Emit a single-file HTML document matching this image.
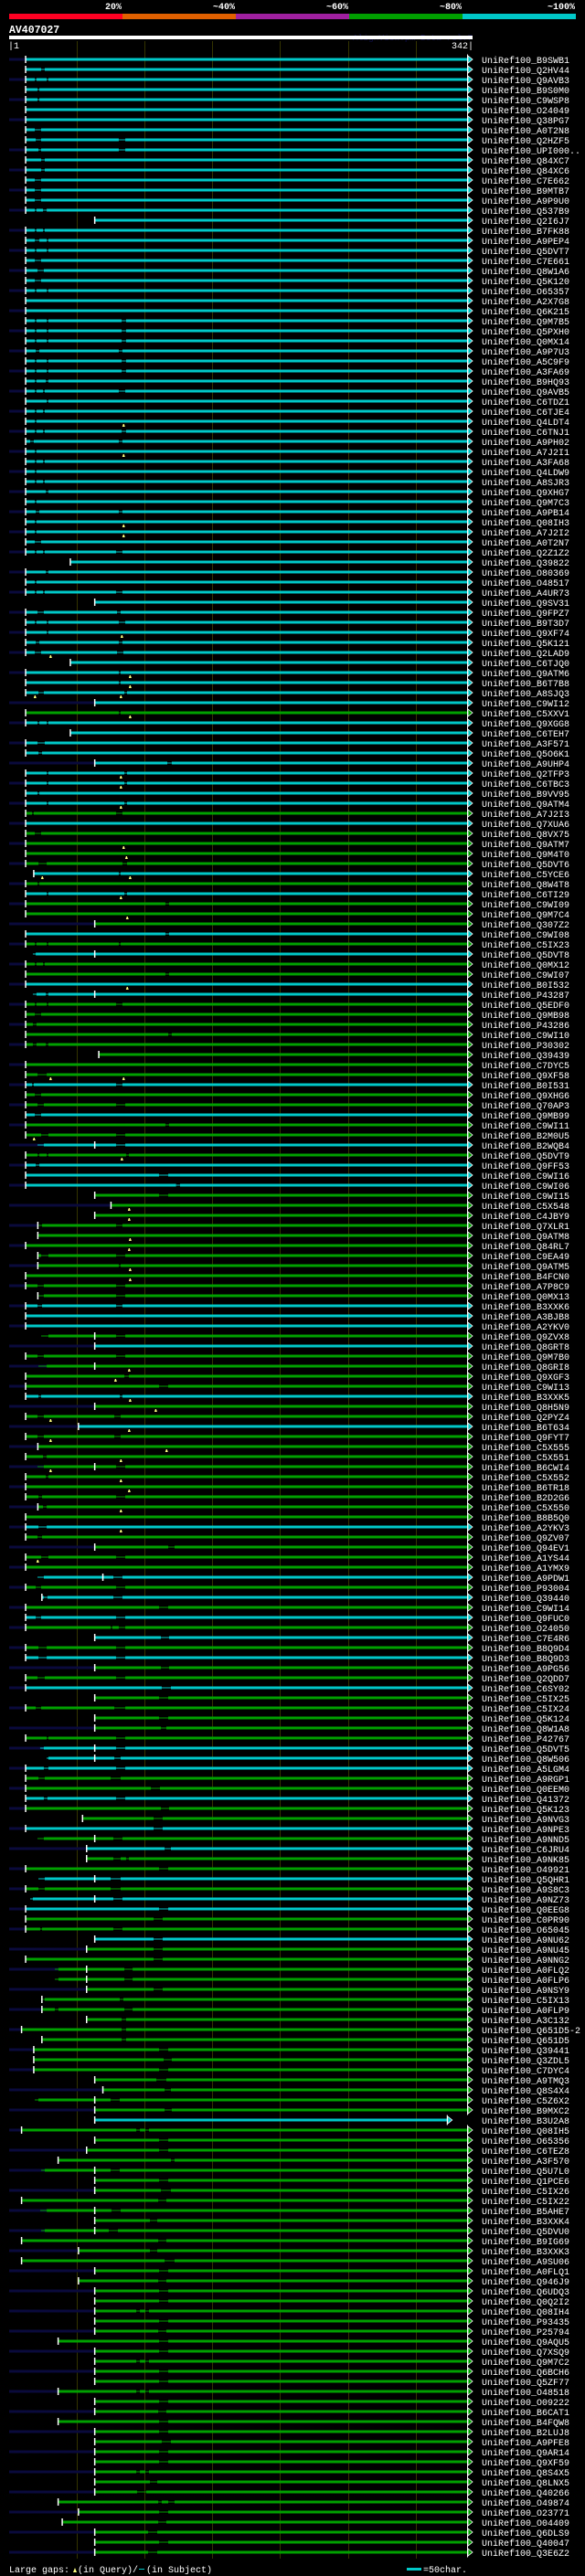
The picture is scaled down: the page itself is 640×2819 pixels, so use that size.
<!DOCTYPE html>
<html><head><meta charset="utf-8"><title>AV407027 alignment</title>
<style>
html,body{margin:0;padding:0;background:#000;}
svg{display:block;}
text{font-family:"Liberation Mono",monospace;}
</style></head>
<body>
<svg id="chart" xmlns="http://www.w3.org/2000/svg" width="640" height="2819" viewBox="0 0 640 2819">
<rect x="0" y="0" width="640" height="2819" fill="#000"/>
<g id="legend-top"></g>
<text x="10" y="36" fill="#fff" font-size="11.5" font-weight="bold">AV407027</text>
<text x="517" y="44" fill="#0c0c48" font-size="9.5" text-anchor="end">AlignView.pm Beta rel.7</text>
<rect x="10" y="39" width="507" height="4" fill="#fff"/>
<text x="9" y="53" fill="#fff" font-size="10">|1</text>
<text x="518" y="53" fill="#fff" font-size="10" text-anchor="end">342|</text>
<g id="grid"></g>
<g id="rows"></g>
<g>
<text x="10" y="2815" fill="#fff" font-size="10">Large gaps:</text>
<polygon points="80,2815 82,2810 84,2815" fill="#ffff80"/>
<text x="85" y="2815" fill="#fff" font-size="10">(in Query)/</text>
<rect x="152" y="2811" width="6" height="1" fill="#00c8c8"/>
<text x="160" y="2815" fill="#fff" font-size="10">(in Subject)</text>
<rect x="445" y="2810" width="16" height="3" fill="#00c8c8"/>
<text x="463" y="2815" fill="#fff" font-size="10">=50char.</text>
</g>
</svg>
<script>
// ---- data ----
const legendLabels = ["20%","~40%","~60%","~80%","~100%"];
const legendColors = ["#ff0022","#e06000","#a020a0","#00a000","#00c8c8"];
const gridTicks = [50,100,150,200,250,300];
const queryLength = 342;
const rowNames = ["B9SWB1","Q2HV44","Q9AVB3","B9S0M0","C9WSP8","O24049","Q38PG7","A0T2N8","Q2HZF5","UPI000..","Q84XC7","Q84XC6","C7E662","B9MTB7","A9P9U0","Q537B9","Q2I6J7","B7FK88","A9PEP4","Q5DVT7","C7E661","Q8W1A6","Q5K120","O65357","A2X7G8","Q6K215","Q9M7B5","Q5PXH0","Q0MX14","A9P7U3","A5C9F9","A3FA69","B9HQ93","Q9AVB5","C6TDZ1","C6TJE4","Q4LDT4","C6TNJ1","A9PH02","A7J2I1","A3FA68","Q4LDW9","A8SJR3","Q9XHG7","Q9M7C3","A9PB14","Q08IH3","A7J2I2","A0T2N7","Q2Z1Z2","Q39822","O80369","O48517","A4UR73","Q9SV31","Q9FPZ7","B9T3D7","Q9XF74","Q5K121","Q2LAD9","C6TJQ0","Q9ATM6","B6T7B8",
"A8SJQ3","C9WI12","C5XXV1","Q9XGG8","C6TEH7","A3F571","Q5O6K1","A9UHP4","Q2TFP3","C6TBC3","B9VV95","Q9ATM4","A7J2I3","Q7XUA6","Q8VX75","Q9ATM7","Q9M4T0","Q5DVT6","C5YCE6","Q8W4T8","C6TI29","C9WI09","Q9M7C4","Q307Z2","C9WI08","C5IX23","Q5DVT8","Q0MX12","C9WI07","B0I532","P43287","Q5EDF0","Q9MB98","P43286","C9WI10","P30302","Q39439","C7DYC5","Q9XF58","B0I531","Q9XHG6","Q70AP3","Q9MB99","C9WI11","B2M0U5","B2WQB4","Q5DVT9","Q9FF53","C9WI16","C9WI06","C9WI15","C5X548","C4JBY9","Q7XLR1","Q9ATM8","Q84RL7","C9EA49","Q9ATM5","B4FCN0","A7P8C9","Q0MX13","B3XXK6","A3BJB8","A2YKV0",
"Q9ZVX8","Q8GRT8","Q9M7B0","Q8GRI8","Q9XGF3","C9WI13","B3XXK5","Q8H5N9","Q2PYZ4","B6T634","Q9FYT7","C5X555","C5X551","B6CWI4","C5X552","B6TR18","B2D2G6","C5X550","B8B5Q0","A2YKV3","Q9ZV07","Q94EV1","A1YS44","A1YMX9","A9PDW1","P93004","Q39440","C9WI14","Q9FUC0","O24050","C7E4R6","B8Q9D4","B8Q9D3","A9PG56","Q2QDD7","C6SY02","C5IX25","C5IX24","Q5K124","Q8W1A8","P42767","Q5DVT5","Q8W506","A5LGM4","A9RGP1","Q0EEM0","Q41372","Q5K123","A9NVG3","A9NPE3","A9NND5","C6JRU4","A9NK85","O49921","Q5QHR1","A9S8C3","A9NZ73","Q0EEG8","C0PR90","O65045","A9NU62","A9NU45","A9NNG2","A0FLQ2",
"A0FLP6","A9NSY9","C5IX13","A0FLP9","A3C132","Q651D5-2","Q651D5","Q39441","Q3ZDL5","C7DYC4","A9TMQ3","Q8S4X4","C5Z6X2","B9MXC2","B3U2A8","Q08IH5","O65356","C6TEZ8","A3F570","Q5U7L0","Q1PCE6","C5IX26","C5IX22","B5AHE7","B3XXK4","Q5DVU0","B9IG69","B3XXK3","A9SU06","A0FLQ1","Q946J9","Q6UDQ3","Q0Q2I2","Q08IH4","P93435","P25794","Q9AQU5","Q7XSQ9","Q9M7C2","Q6BCH6","Q5ZF77","O48518","O09222","B6CAT1","B4FQW8","B2LUJ8","A9PFE8","Q9AR14","Q9XF59","Q8S4X5","Q8LNX5","Q40266","O49874","O23771","O04409","Q6DLS9","Q40047","Q3E6Z2"];
// c = cyan (~100%), g = green (~80%)
const rowColor = "ccccccccccccccccccccccccccccccccccccccccccccccccccccccccccccccc"+
"ccgcccccccccgcggggcgcgggcgcggccggggggggcggcggcgcccgggggggggggccc"+
"gcggggcggcgggggggggcggggcgcgcgcgcggcgggggcccggcggcgcggcgccggcggg"+
"ggggggggggggggcgggggggggggggggggggggggggggggggggggggggggggg";
const rowStart = [12,12,12,12,12,12,12,12,12,12,12,12,12,12,12,12,63,12,12,12,12,12,12,12,12,12,12,12,12,12,12,12,12,12,12,12,12,12,12,12,12,12,12,12,12,12,12,12,12,12,45,12,12,12,63,12,12,12,12,12,45,12,12,
12,63,12,12,45,12,12,63,12,12,12,12,12,12,12,12,12,12,18,12,12,12,12,63,12,12,63,12,12,12,63,12,12,12,12,12,66,12,12,12,12,12,12,12,12,63,12,12,12,12,63,75,63,21,21,12,21,21,12,12,21,12,12,12,63,63,
12,63,12,12,12,63,12,51,12,21,12,63,12,12,12,21,12,12,12,63,12,12,69,12,24,12,12,12,63,12,12,63,12,12,63,12,63,63,12,63,63,12,12,12,12,12,54,12,63,57,57,12,63,12,63,12,12,12,63,57,12,57,57,57,24,
24,57,9,24,18,18,18,63,69,63,63,63,9,63,57,36,63,63,63,9,63,63,63,9,51,9,63,51,63,63,63,63,63,36,63,63,63,63,36,63,63,36,63,63,63,63,63,63,63,36,51,39,63,63,63,51,63,51];
const rowExt = "101010100101010101010101010101010101010101010101010101010101010"+
"0101010101010101010101010101010101010101010101010101010101010101"+
"0101010101010101010101010101010101010101010101010101010101010101"+
"0101010101010101010101010101010101010101010101010101010101";
const rowGaps = ["","23.6-26.3","18.9-20.2 27.7-29","20.9-22.3","20.9-22.3","","","18.9-23.6","19.6-23.6 80.9-85.7","21.6-23.6 80.9-85.7","23.6-26.3","23.6-26.3","18.9-23.6","18.9-23.6","18.9-23.6","18.9-20.2 25-27.7","","18.9-20.2 25-26.3","18.9-22.3 27.7-29","18.9-20.2 27.7-29","18.9-23.6","20.9-25.6","18.9-23.6","18.9-20.2 27.7-29","","","18.9-20.2 27.7-29 83-86.3","18.9-20.2 27.7-29 83-86.3","18.9-20.2 27.7-29 83-86.3","19.6-22.3 80.9-83.6","18.9-20.2 27.7-29 83-86.3","18.9-20.2 27.7-29 83-86.3","18.9-20.2 27-29","18.9-20.2 25-26.3 80.9-85.7","27.7-29","18.9-20.2 25-26.3","18.9-20.2","18.9-20.2 25-26.3 83-86.3","15.5-18.2 80.9-83.6","18.9-20.2","18.9-20.2 25-26.3","18.9-20.2","18.9-20.2 25-26.3","27-29","18.9-20.2","19.6-22.3 80.9-83.6","18.9-20.2","18.9-20.2","18.9-23.6","18.9-20.2 25-26.3 78.9-83.6","","27-29","18.9-20.2","18.9-20.2 25-26.3 78.9-83.6","","20.9-25.6 79.6-82.3","18.9-20.2 27.7-29 80.9-85.7","27.7-29","19.6-22.3 80.9-83.6","18.9-23.6 79.6-84.3","","80.9-82.3","80.9-82.3",
"21.6-25.6 85-87","","80.9-82.3","20.9-22.3 27.7-29","","20.9-26.3","21.6-24.3","116.7-120","27.7-29 85-87","27.7-29 85-87","20.9-22.3","27.7-29 85-87","16.9-18.2 78.9-83.6","","18.9-23.6","","","21.6-27.7 83.6-87","80.9-82.3","20.9-22.3","27.7-29 85-87","115.3-118","","","115.3-118","18.9-20.2 27.7-29 80.9-82.3","17.5-19.6","18.9-20.2 25-26.3","115.3-118","","17.5-20.2 27-29","18.9-20.2 27.7-29 78.9-83.6","18.9-23.6","17.5-20.2","117.4-120","17.5-20.2 27-29","","","20.9-27.7","16.9-18.2 78.9-83.6","18.9-23.6","20.9-25.6 78.9-85.7","18.9-23.6","115.3-118","23.6-29 78.9-85.7","20.9-25.6 78.9-85.7","20.9-22.3 27.7-29 86.3-88.4","19.6-22.3","110.6-117.4","123.2-126.1","110.6-117.4","","","20.9-24.3 78.9-83.6","","","23.6-29 78.9-85.7","80.9-82.3","","20.9-25.6 78.9-85.7","20.9-25.6 78.9-85.7","20.9-24.3 78.9-83.6","","",
"23.6-29 78.9-85.7","","20.9-25.6 78.9-85.7","21.6-27.7","85-88.4","110.6-117.4","21.6-23.6 81.6-83.6","","20.9-25.6 77.6-82.3","","20.9-25.6 77.6-82.3","","25-27.7","20.9-25.6 78.9-85.7","27-29","","21.6-24.3 78.9-85.7","25-27.7","","21.6-27.7","20.9-24.3","117.4-122.1","23.6-29 78.9-85.7","","20.9-25.6 76.9-83.6","19.6-23.6 78.9-85.7","25.6-28.3 76.9-83.6","110.6-117.4","19.6-23.6 78.9-85.7","74.9-76.2 80.9-85.7","112-118","21.6-27.7 78.9-85.7","21.6-27.7 78.9-85.7","112-118","20.9-26.3 78.9-85.7","112.6-119.4","110.6-117.4","19.6-23.6 77.6-85.7","110.6-117.4","112-116","27.7-29 78.9-85.7","22.9-25.6 78.9-85.7","27.7-29 77.6-82.3","25.6-29 78.9-85.7","21.6-26.3 74.9-82.3","104.6-111.3","25.6-28.3 78.9-85.7","112-118","106.6-113.3","106.6-113.3","20.9-25.6 76.9-83.6","114.7-119.4","76.9-82.3 86.3-88.4","110.6-117.4","21.6-26.3 74.9-82.3","21.6-26.3 74.9-82.3","15.5-17.5 76.9-83.6","110.6-117.4","106.6-113.3","22.9-24.3 76.9-83.6","106.6-113.3","106.6-113.3","106.6-113.3","33.7-36.4 85-91.1",
"33.7-36.4 85-91.1","106.6-113.3","23.6-26.3 81.6-84.3","33.7-36.4 85-91.1","83-86.3","83-86.3","83-86.3","110.6-117.4","114-120","110.6-117.4","108.6-116","114.7-119.4","18.9-21.6 74.9-81.6","114.7-120","","93.8-96.5 100.5-103.2","110.6-117.4","110.6-117.4","119.4-122.1","23.6-26.3 74.9-81.6","110.6-117.4","112-119.4","110-116","22.9-27.7 75.5-82.3","103.9-109.3","23.6-26.3 73.5-80.3","110-116","103.9-109.3","114.7-122.1","110.6-117.4","110-116","110.6-117.4","110.6-117.4","93.8-96.5 100.5-103.2","110.6-117.4","110-116","110.6-117.4","110.6-117.4","93.8-96.5 100.5-103.2","110.6-117.4","110.6-117.4","93.8-96.5 100.5-103.2","110.6-117.4","110-116","110.6-117.4","110.6-117.4","112.6-119.4","110.6-117.4","110.6-117.4","93.8-96.5 100.5-103.2","103.9-109.3","94.4-101.1","110-112.6 117.4-122.1","110.6-117.4","110-116","102.5-109.3","110.6-117.4","102.5-109.3"];
// query-gap markers (residue positions), by row index
const markRows = [36,39,46,47,57,59,61,62,63,63,65,71,72,74,78,79,81,81,83,85,92,101,101,107,109,114,115,117,118,120,121,130,131,133,134,135,136,137,138,139,140,141,142,144,146,149];
const markPos  = [84.5,84.5,84.5,84.5,83.2,30.6,89.3,89.3,19.1,82.5,89.3,82.5,82.5,82.5,84.5,86.6,24.5,89.3,82.5,87.2,87.2,30.6,84.5,18.4,83.2,88.6,88.6,89.3,88.6,89.3,89.3,88.6,78.5,89.3,108.2,30.6,88.6,30.6,116.2,82.5,30.6,82.5,88.6,82.5,82.5,21.1];
const rowEndRows = [205];
const rowEndPos = [327];

// ---- scales ----
const X0 = 10, PX = 507/342;
function xScale(p){ return X0 + p*PX; }
function yScale(i){ return 65 + i*11; }
const COLORS = {c:"#00c8c8", g:"#00a000"};
const NS = "http://www.w3.org/2000/svg";
function mk(tag, attrs, parent){
  const e = document.createElementNS(NS, tag);
  for (const k in attrs) e.setAttribute(k, attrs[k]);
  parent.appendChild(e);
  return e;
}

// top legend
const lg = document.getElementById("legend-top");
legendColors.forEach((c,k)=>{
  const r = mk("rect",{x:10+k*124,y:15,width:124,height:6,fill:c},lg);
  
  
  const t = mk("text",{x:10+(k+1)*124-1,y:10,fill:"#fff","font-size":"10","font-weight":"bold","text-anchor":"end"},lg);
  t.textContent = legendLabels[k];
  
  
});

// grid
const gg = document.getElementById("grid");
gridTicks.forEach(v=>{
  const l = mk("rect",{x:Math.round(xScale(v)),y:45,width:1,height:2755,fill:"#343400"},gg);
  
  
});

// rows
const rg = document.getElementById("rows");
rowNames.forEach((name,i)=>{
  const y = yScale(i);
  const col = COLORS[rowColor[i]];
  const g = mk("g",{},rg);
  
  
  const s = rowStart[i];
  const ei = rowEndRows.indexOf(i);
  const endP = ei >= 0 ? rowEndPos[ei] : queryLength;
  const xs = xScale(s), xe = xScale(endP);
  if (rowExt[i] === "1") {
    const ex = mk("rect",{x:X0,y:y-1.5,width:xs-X0,height:3,fill:"#0a0a3c"},g);
    
    
  }
  // segments between gaps
  const gaps = rowGaps[i] ? rowGaps[i].split(" ").map(t=>t.split("-").map(Number)) : [];
  let cur = s;
  const segs = [];
  gaps.forEach(([a,b])=>{ segs.push([cur,a]); cur=b; });
  segs.push([cur, endP]);
  segs.forEach(([a,b],k)=>{
    const x1 = xScale(a), x2 = k===segs.length-1 ? xe-5 : xScale(b);
    const r = mk("rect",{x:x1,y:y-1.5,width:Math.max(0,x2-x1),height:3,fill:col},g);
    
    
  });
  gaps.forEach(([a,b])=>{
    const r = mk("rect",{x:xScale(a),y:y-0.5,width:xScale(b)-xScale(a),height:1,fill:col},g);
    
    
  });
  const tk = mk("rect",{x:xs-0.5,y:y-4,width:1.5,height:8,fill:"#fff"},g);
  
  
  const eb = mk("rect",{x:xe-6,y:y-5.5,width:1,height:11,fill:"#fff"},g);
  
  
  const ar = mk("polygon",{points:`${xe-5},${y-4} ${xe},${y} ${xe-5},${y+4}`,fill:col,stroke:"#fff","stroke-width":"0.8"},g);
  
  
  const t = mk("text",{x:527,y:y+4,fill:"#fff","font-size":"10"},g);
  t.textContent = "UniRef100_" + name;
  
  
});
markRows.forEach((ri,k)=>{
  const y = yScale(ri), x = xScale(markPos[k]);
  const m = mk("polygon",{points:`${x-1.5},${y+6} ${x-0.5},${y+3} ${x+0.5},${y+3} ${x+1.5},${y+6}`,fill:"#ffff80"},rg);
  
  
});
</script>
</body></html>
